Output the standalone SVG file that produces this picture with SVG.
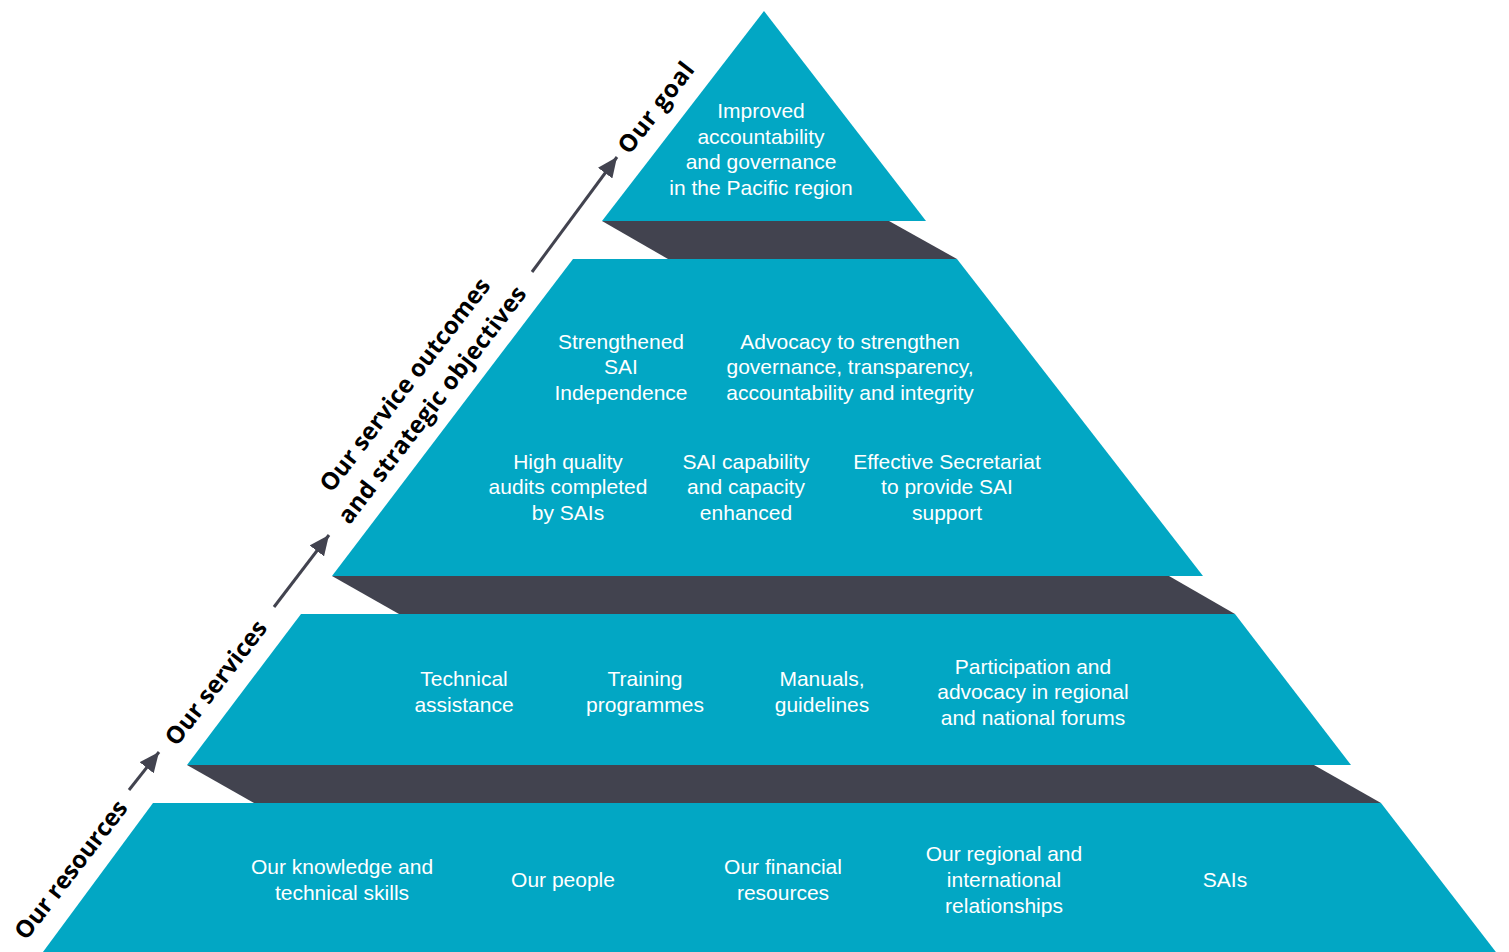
<svg xmlns="http://www.w3.org/2000/svg" width="1509" height="952" viewBox="0 0 1509 952">
<defs>
<style>
.tier{fill:#02A7C4;}
.band{fill:#42434F;}
.t{font-family:"Liberation Sans",Arial,sans-serif;font-size:21px;fill:#ffffff;text-anchor:middle;}
.lbl{font-family:"Open Sans","Noto Sans",sans-serif;font-weight:700;font-size:24px;fill:#000000;text-anchor:middle;dominant-baseline:central;}
.arr{stroke:#42434F;stroke-width:3;fill:none;marker-end:url(#ah);}
</style>
<marker id="ah" markerUnits="userSpaceOnUse" markerWidth="22" markerHeight="18" refX="20" refY="9" orient="auto">
<path d="M0,0 L20,9 L0,18 Z" fill="#42434F"/>
</marker>
</defs>
<rect width="1509" height="952" fill="#ffffff"/>

<g id="bands">
<polygon class="band" points="602,221 889,221 957,259 668,259"/>
<polygon class="band" points="332,576 1169,576 1235,614 399,614"/>
<polygon class="band" points="187,765 1314,765 1381,803 254,803"/>
</g>

<g id="goal">
<polygon class="tier" points="764,11 926,221 602,221"/>
<text class="t" x="761" y="118">Improved</text>
<text class="t" x="761" y="144">accountability</text>
<text class="t" x="761" y="169">and governance</text>
<text class="t" x="761" y="195">in the Pacific region</text>
</g>

<g id="outcomes">
<polygon class="tier" points="573,259 957,259 1203,576 332,576"/>
<g id="o1">
<text class="t" x="621" y="349">Strengthened</text>
<text class="t" x="621" y="374">SAI</text>
<text class="t" x="621" y="400">Independence</text>
</g>
<g id="o2">
<text class="t" x="850" y="349">Advocacy to strengthen</text>
<text class="t" x="850" y="374">governance, transparency,</text>
<text class="t" x="850" y="400">accountability and integrity</text>
</g>
<g id="o3">
<text class="t" x="568" y="469">High quality</text>
<text class="t" x="568" y="494">audits completed</text>
<text class="t" x="568" y="520">by SAIs</text>
</g>
<g id="o4">
<text class="t" x="746" y="469">SAI capability</text>
<text class="t" x="746" y="494">and capacity</text>
<text class="t" x="746" y="520">enhanced</text>
</g>
<g id="o5">
<text class="t" x="947" y="469">Effective Secretariat</text>
<text class="t" x="947" y="494">to provide SAI</text>
<text class="t" x="947" y="520">support</text>
</g>
</g>

<g id="services">
<polygon class="tier" points="301,614 1235,614 1351,765 187,765"/>
<g id="s1">
<text class="t" x="464" y="686">Technical</text>
<text class="t" x="464" y="712">assistance</text>
</g>
<g id="s2">
<text class="t" x="645" y="686">Training</text>
<text class="t" x="645" y="712">programmes</text>
</g>
<g id="s3">
<text class="t" x="822" y="686">Manuals,</text>
<text class="t" x="822" y="712">guidelines</text>
</g>
<g id="s4">
<text class="t" x="1033" y="674">Participation and</text>
<text class="t" x="1033" y="699">advocacy in regional</text>
<text class="t" x="1033" y="725">and national forums</text>
</g>
</g>

<g id="resources">
<polygon class="tier" points="153,803 1381,803 1499,956 40,956"/>
<g id="r1">
<text class="t" x="342" y="874">Our knowledge and</text>
<text class="t" x="342" y="900">technical skills</text>
</g>
<g id="r2">
<text class="t" x="563" y="887">Our people</text>
</g>
<g id="r3">
<text class="t" x="783" y="874">Our financial</text>
<text class="t" x="783" y="900">resources</text>
</g>
<g id="r4">
<text class="t" x="1004" y="861">Our regional and</text>
<text class="t" x="1004" y="887">international</text>
<text class="t" x="1004" y="913">relationships</text>
</g>
<g id="r5">
<text class="t" x="1225" y="887">SAIs</text>
</g>
</g>

<g id="connectors">
<line class="arr" x1="129" y1="790" x2="159" y2="752"/>
<line class="arr" x1="274" y1="607" x2="329" y2="535"/>
<line class="arr" x1="532" y1="272" x2="617" y2="157"/>
</g>

<g id="side-labels">
<text class="lbl" transform="translate(70,869) rotate(-52.4)" textLength="168" lengthAdjust="spacing">Our resources</text>
<text class="lbl" transform="translate(215,682) rotate(-52.4)" textLength="150" lengthAdjust="spacing">Our services</text>
<text class="lbl" transform="translate(404,384) rotate(-52.4)" textLength="262" lengthAdjust="spacing">Our service outcomes</text>
<text class="lbl" transform="translate(431,404) rotate(-52.4)" textLength="292" lengthAdjust="spacing">and strategic objectives</text>
<text class="lbl" transform="translate(655,107) rotate(-52.4)" textLength="108" lengthAdjust="spacing">Our goal</text>
</g>
</svg>
